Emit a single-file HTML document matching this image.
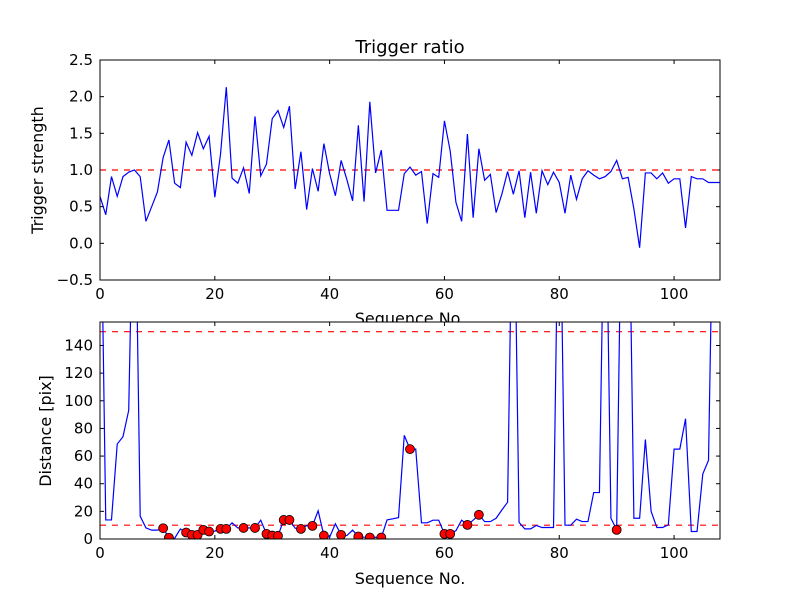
<!DOCTYPE html>
<html><head><meta charset="utf-8"><style>
body{margin:0;background:#fff;}
svg{display:block;font-family:"DejaVu Sans","Liberation Sans",sans-serif;}
</style></head><body>
<svg id="chart" width="800" height="600"></svg>
<script>
const ratio = [0.64,0.39,0.91,0.64,0.91,0.97,1.0,0.91,0.30,0.5,0.70,1.17,1.41,0.82,0.76,1.38,1.20,1.51,1.29,1.46,0.63,1.22,2.13,0.89,0.82,1.03,0.68,1.73,0.92,1.08,1.70,1.81,1.58,1.87,0.74,1.25,0.46,1.02,0.71,1.36,0.95,0.65,1.13,0.87,0.58,1.61,0.57,1.93,0.96,1.27,0.45,0.45,0.45,0.95,1.04,0.93,0.98,0.27,0.95,0.90,1.67,1.26,0.56,0.30,1.49,0.35,1.29,0.86,0.94,0.42,0.67,0.98,0.67,0.99,0.35,0.97,0.41,0.99,0.80,0.97,0.83,0.41,0.93,0.60,0.88,0.99,0.93,0.88,0.91,0.98,1.13,0.88,0.90,0.47,-0.06,0.96,0.96,0.88,0.96,0.82,0.88,0.88,0.21,0.91,0.88,0.88,0.83,0.83,0.83];
const dist = [300,13.8,13.8,68.7,74,93,300,16.5,8,6.4,6.4,7.8,0.9,0.5,7.3,4.7,3,3,6.6,5.4,5.7,7.3,7.3,11.7,8,8,8,8,13.6,3.7,2.5,2.3,13.8,13.8,7.8,7.3,9.7,9.5,20.4,2.5,1.3,11,3,2.5,6.4,1.8,1.3,1.1,1.3,1.1,13.8,14.6,15.5,75,65,65,11.7,11.7,13.6,13.6,3.7,3.7,6,13.6,10.2,13.6,17.5,12.6,12.6,15,21,26.6,300,12,7.3,7.3,9.8,8.3,8.3,8.3,300,10,10,14.3,12.6,12.6,33.6,33.6,300,15,6.6,300,300,15,15,72,20,8.3,8.3,10.2,65,65,87,5.4,5.4,47,57,300,300];
const dotIdx = [11,12,15,16,17,18,19,21,22,25,27,29,30,31,32,33,35,37,39,42,45,47,49,54,60,61,64,66,90];
const xTicks = [0,20,40,60,80,100];
const topTicks = [-0.5,0,0.5,1.0,1.5,2.0,2.5];
const botTicks = [0,20,40,60,80,100,120,140];
const thresholds = [10,150];

const NS="http://www.w3.org/2000/svg";
const svg=document.getElementById('chart');
function mk(tag,attrs,parent){const e=document.createElementNS(NS,tag);for(const k in attrs)e.setAttribute(k,attrs[k]);(parent||svg).appendChild(e);return e;}
const L=100,R=720;
const xs=v=>L+(v-0)/(108-0)*(R-L);
const T1=60,B1=280,ys1=v=>B1-(v+0.5)/3*(B1-T1);
const T2=322,B2=539,ymax2=157,ys2=v=>B2-v/ymax2*(B2-T2);

let t=mk('text',{x:410,y:53,'text-anchor':'middle','font-size':18});t.textContent='Trigger ratio';



function axes(T,B,ys,ticks,fmt,name,clipId){
  const g=mk('g',{});
  
  
  mk('rect',{x:L,y:T,width:R-L,height:B-T,fill:'#fff'},g);
  const cp=mk('clipPath',{id:clipId},g);mk('rect',{x:L,y:T,width:R-L,height:B-T},cp);
  xTicks.forEach(v=>{const x=xs(v);
    mk('line',{x1:x,x2:x,y1:B,y2:B-4,stroke:'#000'},g);mk('line',{x1:x,x2:x,y1:T,y2:T+4,stroke:'#000'},g);
    const tx=mk('text',{x:x,y:B+19,'text-anchor':'middle','font-size':15},g);tx.textContent=v;
    
    });
  ticks.forEach(v=>{const y=ys(v);
    mk('line',{x1:L,x2:L+4,y1:y,y2:y,stroke:'#000'},g);mk('line',{x1:R,x2:R-4,y1:y,y2:y,stroke:'#000'},g);
    const ty=mk('text',{x:L-7,y:y+5,'text-anchor':'end','font-size':15},g);ty.textContent=fmt(v);
    
    });
  return g;
}
// top
const g1=axes(T1,B1,ys1,topTicks,v=>v.toFixed(1).replace('-','\u2212'),'ratio-axes','c1');
mk('line',{x1:L,x2:R,y1:ys1(1),y2:ys1(1),stroke:'red','stroke-dasharray':'6,6','stroke-width':1.2,'clip-path':'url(#c1)'},g1);
const p1=mk('polyline',{points:ratio.map((v,i)=>xs(i)+','+ys1(v)).join(' '),fill:'none',stroke:'blue','stroke-width':1.2,'clip-path':'url(#c1)'},g1);


mk('rect',{x:L,y:T1,width:R-L,height:B1-T1,fill:'none',stroke:'#000'},g1);
let yl=mk('text',{x:43,y:170,'text-anchor':'middle','font-size':16,transform:'rotate(-90 43 170)'});yl.textContent='Trigger strength';


let xl1=mk('text',{x:410,y:324,'text-anchor':'middle','font-size':16});xl1.textContent='Sequence No.';


// bottom
const g2=axes(T2,B2,ys2,botTicks,v=>String(v),'distance-axes','c2');
thresholds.forEach(th=>{const l=mk('line',{x1:L,x2:R,y1:ys2(th),y2:ys2(th),stroke:'red','stroke-dasharray':'6,6','stroke-width':1.2,'clip-path':'url(#c2)'},g2);
  
  });
const p2=mk('polyline',{points:dist.map((v,i)=>xs(i)+','+ys2(v)).join(' '),fill:'none',stroke:'blue','stroke-width':1.2,'clip-path':'url(#c2)'},g2);


dotIdx.forEach(i=>{const c=mk('circle',{cx:xs(i),cy:ys2(dist[i]),r:4.5,fill:'red',stroke:'#000','stroke-width':0.8,'clip-path':'url(#c2)'},g2);
  
  });
mk('rect',{x:L,y:T2,width:R-L,height:B2-T2,fill:'none',stroke:'#000'},g2);
let yl2=mk('text',{x:51,y:431,'text-anchor':'middle','font-size':16,transform:'rotate(-90 51 431)'});yl2.textContent='Distance [pix]';


let xl2=mk('text',{x:410,y:584,'text-anchor':'middle','font-size':16});xl2.textContent='Sequence No.';


</script>
</body></html>
